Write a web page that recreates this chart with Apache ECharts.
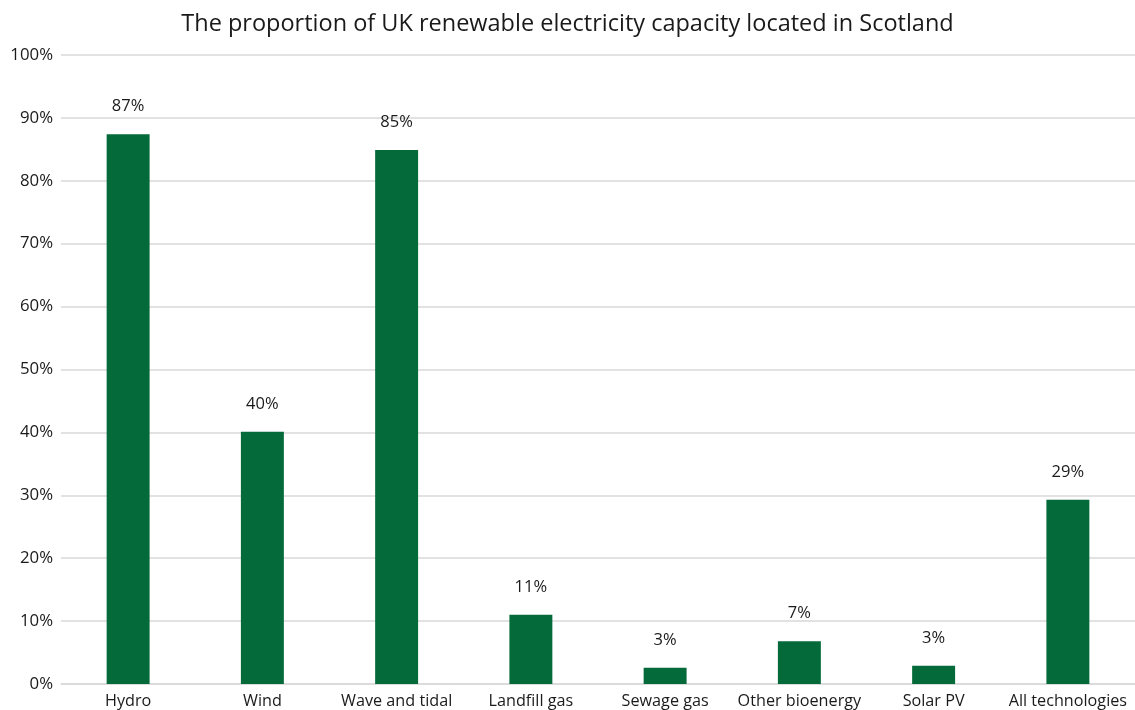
<!DOCTYPE html>
<html>
<head>
<meta charset="utf-8">
<script src="https://cdn.jsdelivr.net/npm/echarts@6/dist/echarts.min.js"></script>
<style>html,body{margin:0;padding:0;background:#fff;}#c{width:1135px;height:710px;}</style>
</head>
<body>
<div id="c"></div>
<script>
const categories = ['Hydro', 'Wind', 'Wave and tidal', 'Landfill gas', 'Sewage gas', 'Other bioenergy', 'Solar PV', 'All technologies'];
const values = [87.4, 40.1, 84.9, 11.0, 2.6, 6.8, 2.9, 29.3];
const valueLabels = ['87%', '40%', '85%', '11%', '3%', '7%', '3%', '29%'];
const titleText = 'The proportion of UK renewable electricity capacity located in Scotland';

const chart = echarts.init(document.getElementById('c'));
chart.setOption({
  animation: false,
  textStyle: { fontFamily: 'Open Sans, Noto Sans, sans-serif' },
  title: {
    text: titleText,
    left: 'center',
    top: 7,
    textStyle: { fontSize: 23.5, fontWeight: 'normal', color: '#1a1a1a', fontFamily: 'Open Sans, Noto Sans, sans-serif' }
  },
  grid: { left: 61, right: 0, top: 55, bottom: 26, containLabel: false },
  xAxis: {
    type: 'category',
    data: categories,
    axisLine: { show: true, lineStyle: { color: '#d9d9d9', width: 1.5 } },
    axisTick: { show: false },
    axisLabel: { color: '#1a1a1a', fontSize: 16.2, margin: 9, interval: 0 }
  },
  yAxis: {
    type: 'value',
    min: 0, max: 100, interval: 10,
    axisLine: { show: false },
    axisTick: { show: false },
    splitLine: { lineStyle: { color: '#d9d9d9', width: 1.5 } },
    axisLabel: { color: '#1a1a1a', fontSize: 16.8, margin: 8, formatter: '{value}%' }
  },
  series: [{
    type: 'bar',
    data: values,
    barWidth: '32%',
    itemStyle: { color: '#046a3a' },
    label: {
      show: true,
      position: 'top',
      distance: 19,
      color: '#1a1a1a',
      fontSize: 16.5,
      formatter: p => valueLabels[p.dataIndex]
    }
  }]
});
</script>
</body>
</html>
